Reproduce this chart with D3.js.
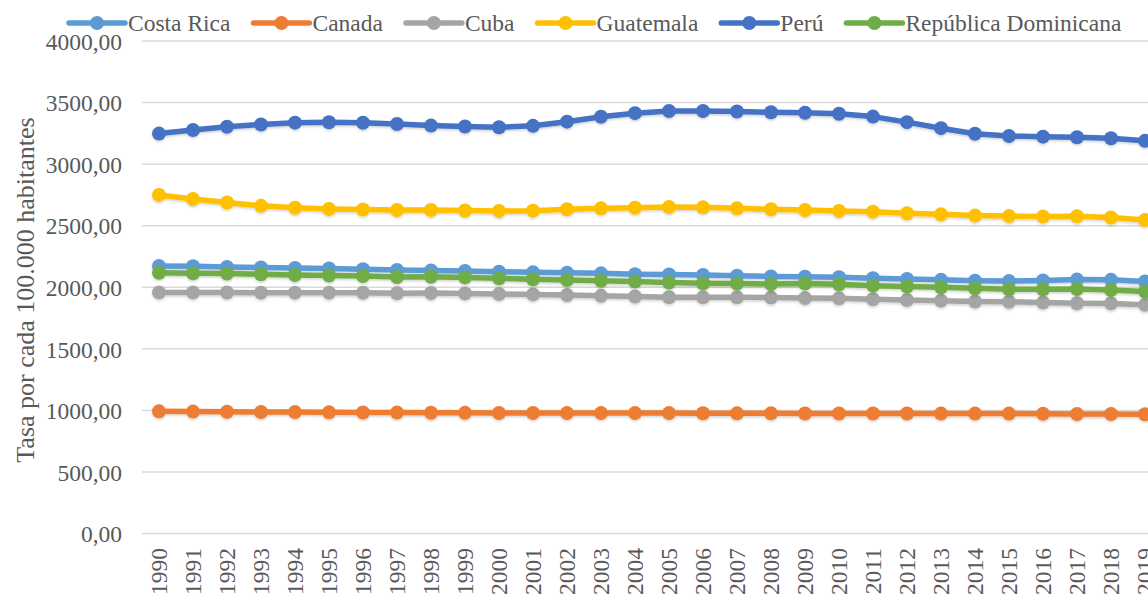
<!DOCTYPE html>
<html>
<head>
<meta charset="utf-8">
<script src="https://cdn.jsdelivr.net/npm/d3@7"></script>
<style>
  body { margin: 0; background: #fff; overflow: hidden; }
  svg text { font-family: "Times New Roman", "Liberation Serif", Tinos, "DejaVu Serif", serif !important; fill: #595959; }
</style>
</head>
<body>
<div id="chart"></div>
<script>
// years on the x axis
var years = d3.range(1990, 2020).map(String);

var costaRica = [2173, 2170, 2165, 2160, 2157, 2152, 2146, 2140, 2137, 2132,
                 2126, 2121, 2118, 2113, 2106, 2104, 2099, 2094, 2088, 2085,
                 2082, 2074, 2067, 2060, 2053, 2050, 2055, 2062, 2060, 2047];
var canada    = [992, 990, 989, 987, 986, 984, 983, 982, 981, 980,
                 979, 979, 978, 978, 978, 978, 977, 976, 976, 975,
                 975, 975, 975, 974, 974, 974, 972, 970, 970, 968];
var cuba      = [1958, 1958, 1957, 1956, 1956, 1956, 1955, 1951, 1953, 1950,
                 1945, 1942, 1937, 1930, 1925, 1919, 1918, 1918, 1916, 1912,
                 1910, 1903, 1897, 1891, 1884, 1882, 1876, 1870, 1869, 1857];
var guatemala = [2750, 2717, 2688, 2661, 2646, 2636, 2632, 2628, 2627, 2623,
                 2620, 2622, 2633, 2641, 2646, 2651, 2649, 2641, 2633, 2627,
                 2620, 2614, 2601, 2592, 2582, 2578, 2574, 2576, 2566, 2547];
var peru      = [3248, 3277, 3303, 3322, 3337, 3340, 3336, 3326, 3313, 3305,
                 3299, 3311, 3345, 3385, 3414, 3431, 3431, 3427, 3421, 3417,
                 3409, 3386, 3341, 3292, 3247, 3228, 3223, 3218, 3210, 3189];
var repDom    = [2117, 2114, 2112, 2106, 2100, 2095, 2091, 2083, 2085, 2080,
                 2073, 2065, 2059, 2053, 2046, 2038, 2033, 2031, 2027, 2030,
                 2024, 2013, 2006, 2000, 1992, 1984, 1983, 1986, 1978, 1965];

var seriesNames  = ["Costa Rica", "Canada", "Cuba", "Guatemala", "Perú", "República Dominicana"];
var seriesValues = [costaRica, canada, cuba, guatemala, peru, repDom];
var colors = ["#5B9BD5", "#ED7D31", "#A5A5A5", "#FFC000", "#4472C4", "#70AD47"];

var yTicks = [0, 500, 1000, 1500, 2000, 2500, 3000, 3500, 4000];
var yTitle = "Tasa por cada 100.000 habitantes";

var width = 1148, height = 597;
var serif = "'Times New Roman', 'Liberation Serif', Tinos, 'DejaVu Serif', serif";
var fmt = function(v) { return d3.format(".2f")(v).replace(".", ","); };

const svg = d3.select("#chart").append("svg")
    .attr("width", width)
    .attr("height", height);

const defs = svg.append("defs");
defs.append("filter")
    .attr("id", "shadow")
    .attr("x", "-5%").attr("y", "-50%")
    .attr("width", "110%").attr("height", "200%")
    .append("feDropShadow")
    .attr("dx", 0).attr("dy", 1.5)
    .attr("stdDeviation", 1)
    .attr("flood-color", "#000")
    .attr("flood-opacity", 0.18);

// plot area runs past the right edge, like the cropped original
const x = d3.scaleBand()
    .domain(years)
    .range([142, 142 + 34 * years.length]);

const y = d3.scaleLinear()
    .domain([0, 4000])
    .range([533.5, 41]);

// gridlines
svg.append("g")
    .selectAll("line")
    .data(yTicks)
    .join("line")
    .attr("x1", x.range()[0])
    .attr("x2", x.range()[1])
    .attr("y1", d => y(d))
    .attr("y2", d => y(d))
    .attr("stroke", "#D9D9D9")
    .attr("stroke-width", 1.5);

// y axis
const yAxis = svg.append("g")
    .attr("transform", "translate(122,0)")
    .call(d3.axisLeft(y).tickValues(yTicks).tickFormat(fmt).tickSize(0).tickPadding(0));
yAxis.select(".domain").remove();
yAxis.attr("font-family", serif).attr("font-size", null);
yAxis.selectAll("text")
    .attr("font-size", "23.5px")
    .attr("dy", "0.35em");

// x axis, labels read bottom-to-top and hang below the axis
const xAxis = svg.append("g")
    .attr("transform", "translate(0,548)")
    .call(d3.axisBottom(x).tickSize(0).tickPadding(0));
xAxis.select(".domain").remove();
xAxis.attr("font-family", serif).attr("font-size", null);
xAxis.selectAll(".tick text")
    .attr("font-size", "23.5px")
    .attr("text-anchor", "start")
    .attr("transform", "rotate(-90)")
    .attr("y", 0)
    .attr("dy", "0.35em")
    .attr("x", function() { return -this.getComputedTextLength(); });

// y title
svg.append("text")
    .attr("transform", "translate(34,290) rotate(-90)")
    .attr("text-anchor", "middle")
    .attr("font-family", serif)
    .attr("font-size", "26px")
    .text(yTitle);

// lines and markers
const line = d3.line()
    .x((d, i) => x(years[i]) + x.bandwidth() / 2)
    .y(d => y(d));

const series = svg.append("g").selectAll("g")
    .data(seriesValues)
    .join("g")
    .attr("filter", "url(#shadow)");

series.append("path")
    .attr("d", d => line(d))
    .attr("fill", "none")
    .attr("stroke", (d, i) => colors[i])
    .attr("stroke-width", 5.5)
    .attr("stroke-linejoin", "round");

series.each(function(vals, si) {
    d3.select(this).selectAll("circle")
        .data(vals)
        .join("circle")
        .attr("cx", (d, i) => x(years[i]) + x.bandwidth() / 2)
        .attr("cy", d => y(d))
        .attr("r", 7)
        .attr("fill", colors[si]);
});

// legend
const legend = svg.append("g");
var lx = 69;
seriesNames.forEach(function(name, i) {
    const item = legend.append("g").attr("transform", "translate(" + lx + ",23)");
    item.append("line")
        .attr("x1", 0).attr("x2", 56)
        .attr("stroke", colors[i])
        .attr("stroke-width", 5.5)
        .attr("stroke-linecap", "round");
    item.append("circle")
        .attr("cx", 28)
        .attr("r", 7)
        .attr("fill", colors[i]);
    const t = item.append("text")
        .attr("x", 59)
        .attr("y", 0)
        .attr("dy", "0.35em")
        .attr("font-family", serif)
        .attr("font-size", "23.5px")
        .text(name);
    lx += 59 + t.node().getComputedTextLength() + 23;
});
</script>
</body>
</html>
